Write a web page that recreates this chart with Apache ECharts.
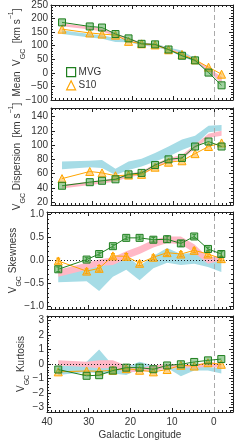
<!DOCTYPE html>
<html><head><meta charset="utf-8">
<script src="https://cdn.jsdelivr.net/npm/echarts@6/dist/echarts.min.js"></script>
<style>html,body{margin:0;padding:0;background:#fff}#c{width:240px;height:445px}</style>
</head><body><div id="c"></div>
<script>
// ---- data ----
const lon = [37.3, 30.5, 27.5, 24.2, 21.0, 17.8, 14.5, 11.2, 7.9, 4.7, 1.4, -1.8];

const meanMVG = [186, 171, 167, 143, 127, 107, 105, 86, 63, 46, 1, -46];
const meanS10 = [161, 147, 143, 139, 116, 107, 103, 85, 68, 48, 21, -5];
const meanBlueLo = [143, 130, 126, 114, 113, 102, 95, 82, 60, 40, 0, -35];
const meanBlueHi = [157, 143, 139, 128, 124, 112, 108, 93, 82, 52, 15, -15];
const meanPinkLo = [172, 160, 152, 135, 120, 104, 98, 84, 64, 44, 5, -38];
const meanPinkHi = [182, 170, 163, 145, 128, 112, 106, 92, 72, 52, 18, -15];

const dispMVG = [43, 48, 50, 52, 59, 61, 72, 80, 82, 98, 105, 98];
const dispS10 = [53, 63, 61, 57, 58, 59, 69, 76, 78, 88, 98, 103];
const dispBlueLo = [66, 69, 68, 58, 65, 70, 77, 84, 93, 100, 118, 120];
const dispBlueHi = [77, 78, 79, 67, 77, 81, 89, 98, 108, 113, 127, 128];
const dispPinkLo = [39, 44, 46, 49, 55, 58, 68, 76, 80, 95, 110, 113];
const dispPinkHi = [44, 49, 51, 54, 60, 63, 74, 82, 86, 101, 116, 120];

const skewMVG = [-0.19, 0.02, 0.14, 0.31, 0.49, 0.49, 0.45, 0.46, 0.37, 0.52, 0.25, 0.14];
const skewS10 = [-0.01, -0.23, -0.17, 0.10, 0.09, -0.06, 0.07, 0.17, 0.14, 0.22, 0.14, 0.04];
const skewErrMVG = [0.05, 0.04, 0.04, 0.04, 0.04, 0.04, 0.05, 0.07, 0.06, 0.04, 0.04, 0.05];
const skewErrS10 = [0.06, 0.05, 0.06, 0.05, 0.06, 0.05, 0.05, 0.06, 0.05, 0.05, 0.05, 0.05];
const skewBlueLo = [-0.47, -0.45, -0.66, -0.35, -0.20, -0.43, -0.17, -0.05, -0.10, -0.07, -0.14, -0.25];
const skewBlueHi = [-0.23, -0.10, -0.15, 0.00, 0.10, -0.12, 0.10, 0.27, 0.14, 0.17, 0.03, 0.00];
const skewPinkLo = [-0.35, -0.20, -0.12, -0.10, 0.03, 0.14, 0.28, 0.38, 0.35, 0.17, -0.07, 0.00];
const skewPinkHi = [-0.20, -0.05, 0.02, 0.07, 0.20, 0.31, 0.45, 0.52, 0.52, 0.35, 0.07, 0.10];

const kurtMVG = [-0.38, -0.81, -0.77, -0.45, -0.25, -0.25, -0.36, -0.10, -0.02, 0.14, 0.25, 0.34];
const kurtS10 = [-0.54, -0.48, -0.50, -0.43, -0.32, -0.43, -0.54, -0.38, -0.09, -0.14, 0.09, -0.02];
const kurtBlueLo = [-0.75, -0.55, -0.65, -0.65, -0.75, -0.32, -0.45, -0.25, -0.85, -0.45, -0.45, -0.65];
const kurtBlueHi = [-0.20, 0.15, 1.00, -0.10, -0.20, 0.15, -0.10, 0.00, -0.10, -0.10, -0.20, -0.30];
const kurtPinkLo = [-0.10, -0.20, -0.30, -0.30, -0.55, -0.55, -0.45, -0.35, -0.25, -0.25, -0.20, -0.25];
const kurtPinkHi = [0.25, 0.15, 0.25, 0.25, -0.10, -0.30, -0.10, 0.00, 0.00, -0.05, 0.15, 0.00];

// ---- ticks ----
const xTicks = [0, 10, 20, 30, 40];
const yTicks1 = [-100, -50, 0, 50, 100, 150, 200, 250];
const yTicks2 = [20, 40, 60, 80, 100, 120, 140];
const yTicks3 = [-1.0, -0.5, 0.0, 0.5, 1.0];
const yTicks4 = [-3, -2, -1, 0, 1, 2, 3];

function range(a, b, s) { const r = []; for (let v = a; v <= b + 1e-9; v += s) r.push(Math.round(v * 1000) / 1000); return r; }
const xMinor = range(-4, 40, 1);

const FONT = 'Liberation Sans, Arial, sans-serif';
const TXT = '#333';
const FRAME = '#222';
const BLUE = '#a6dce6';
const PINK = '#ffb8c6';
const GREEN = '#1f7f1f';
const ORANGE = '#ffa500';
const minus = s => String(s).replace('-', '\u2212');

const panels = [
  { top: 4, h: 96, min: -100, max: 250, ticks: yTicks1, minor: range(-100, 250, 10), fmt: v => minus(v),
    name: '{t|Mean  V}{s|GC}{t|  [km s}{p|\u22121}{t|]}', gap: 27,
    mvg: meanMVG, s10: meanS10, bl: meanBlueLo, bh: meanBlueHi, pl: meanPinkLo, ph: meanPinkHi },
  { top: 108, h: 97, min: 16, max: 152, ticks: yTicks2, minor: range(20, 150, 5), fmt: v => String(v),
    name: '{t|V}{s|GC}{t| Dispersion  [km s}{p|\u22121}{t|]}', gap: 27,
    mvg: dispMVG, s10: dispS10, bl: dispBlueLo, bh: dispBlueHi, pl: dispPinkLo, ph: dispPinkHi },
  { top: 212, h: 97, min: -1.05, max: 1.05, ticks: yTicks3, minor: range(-1, 1, 0.1), fmt: v => minus(v.toFixed(1)),
    name: '{t|V}{s|GC}{t| Skewness}', gap: 27, zero: true,
    mvg: skewMVG, s10: skewS10, bl: skewBlueLo, bh: skewBlueHi, pl: skewPinkLo, ph: skewPinkHi,
    emvg: skewErrMVG, es10: skewErrS10 },
  { top: 316, h: 96, min: -3.3, max: 3.3, ticks: yTicks4, minor: range(-3.2, 3.2, 0.2), fmt: v => minus(v),
    name: '{t|V}{s|GC}{t| Kurtosis}', gap: 19, zero: true,
    mvg: kurtMVG, s10: kurtS10, bl: kurtBlueLo, bh: kurtBlueHi, pl: kurtPinkLo, ph: kurtPinkHi }
];

const grids = [], xAxes = [], yAxes = [], series = [];
const nameRich = {
  t: { fontSize: 10, fontFamily: FONT, color: TXT, lineHeight: 14 },
  s: { fontSize: 7, fontFamily: FONT, color: TXT, lineHeight: 14, verticalAlign: 'bottom', padding: [0, 0, -3, 0] },
  p: { fontSize: 7, fontFamily: FONT, color: TXT, lineHeight: 14, verticalAlign: 'top', padding: [-2, 0, 0, 0] }
};

function band(k, lo, hi, color, z) {
  return {
    type: 'custom', xAxisIndex: 4 * k, yAxisIndex: 4 * k, silent: true, z: z, clip: true,
    data: lon.map((x, i) => [x, lo[i], hi[i]]), encode: { x: 0, y: [1, 2] },
    renderItem: function (params, api) {
      if (params.dataIndex !== 0) return null;
      const pts = [];
      for (let i = 0; i < lon.length; i++) pts.push(api.coord([lon[i], hi[i]]));
      for (let i = lon.length - 1; i >= 0; i--) pts.push(api.coord([lon[i], lo[i]]));
      return { type: 'polygon', shape: { points: pts }, style: { fill: color } };
    }
  };
}
function errBars(k, vals, errs, color) {
  return {
    type: 'custom', xAxisIndex: 4 * k, yAxisIndex: 4 * k, silent: true, z: 6,
    data: lon.map((x, i) => [x, vals[i], errs[i]]), encode: { x: 0, y: 1 },
    renderItem: function (params, api) {
      const x = api.value(0), v = api.value(1), e = api.value(2);
      const a = api.coord([x, v - e]), b = api.coord([x, v + e]);
      return { type: 'group', children: [
        { type: 'line', shape: { x1: a[0], y1: a[1], x2: b[0], y2: b[1] }, style: { stroke: color, lineWidth: 1 } },
        { type: 'line', shape: { x1: a[0] - 2, y1: a[1], x2: a[0] + 2, y2: a[1] }, style: { stroke: color, lineWidth: 1 } },
        { type: 'line', shape: { x1: b[0] - 2, y1: b[1], x2: b[0] + 2, y2: b[1] }, style: { stroke: color, lineWidth: 1 } }
      ] };
    }
  };
}

panels.forEach((p, k) => {
  grids.push({ left: 47, width: 186, top: p.top, height: p.h, show: false, containLabel: false });
  const xBase = { type: 'value', gridIndex: k, min: -4.6, max: 40, inverse: true, splitLine: { show: false }, nameMoveOverlap: false };
  xAxes.push(Object.assign({}, xBase, {
    position: 'bottom',
    axisLine: { show: true, onZero: false, lineStyle: { color: FRAME, width: 1 } },
    axisTick: { show: true, inside: true, length: 4, customValues: xTicks, lineStyle: { color: FRAME } },
    axisLabel: { show: k === 3, customValues: xTicks, fontSize: 10, color: TXT, fontFamily: FONT, margin: 5,
      alignMinLabel: 'center', alignMaxLabel: 'center', hideOverlap: false },
    name: k === 3 ? 'Galactic Longitude' : '', nameLocation: 'middle', nameGap: 18,
    nameTextStyle: { fontSize: 10, color: TXT, fontFamily: FONT }
  }));
  xAxes.push(Object.assign({}, xBase, {
    position: 'bottom', axisLine: { show: false, onZero: false },
    axisTick: { show: true, inside: true, length: 2, customValues: xMinor, lineStyle: { color: FRAME } },
    axisLabel: { show: false }
  }));
  xAxes.push(Object.assign({}, xBase, {
    position: 'top',
    axisLine: { show: true, onZero: false, lineStyle: { color: FRAME, width: 1 } },
    axisTick: { show: true, inside: true, length: 4, customValues: xTicks, lineStyle: { color: FRAME } },
    axisLabel: { show: false }
  }));
  xAxes.push(Object.assign({}, xBase, {
    position: 'top', axisLine: { show: false, onZero: false },
    axisTick: { show: true, inside: true, length: 2, customValues: xMinor, lineStyle: { color: FRAME } },
    axisLabel: { show: false }
  }));

  const yBase = { type: 'value', gridIndex: k, min: p.min, max: p.max, splitLine: { show: false }, nameMoveOverlap: false };
  yAxes.push(Object.assign({}, yBase, {
    position: 'left',
    axisLine: { show: true, onZero: false, lineStyle: { color: FRAME, width: 1 } },
    axisTick: { show: true, inside: true, length: 4, customValues: p.ticks, lineStyle: { color: FRAME } },
    axisLabel: { show: true, customValues: p.ticks, fontSize: 10, color: TXT, fontFamily: FONT, margin: 3, formatter: p.fmt, hideOverlap: false },
    name: p.name, nameLocation: 'middle', nameRotate: 90, nameGap: p.gap,
    nameTextStyle: { rich: nameRich, fontSize: 10, color: TXT, fontFamily: FONT }
  }));
  yAxes.push(Object.assign({}, yBase, {
    position: 'left', axisLine: { show: false, onZero: false },
    axisTick: { show: true, inside: true, length: 2, customValues: p.minor, lineStyle: { color: FRAME } },
    axisLabel: { show: false }
  }));
  yAxes.push(Object.assign({}, yBase, {
    position: 'right',
    axisLine: { show: true, onZero: false, lineStyle: { color: FRAME, width: 1 } },
    axisTick: { show: true, inside: true, length: 4, customValues: p.ticks, lineStyle: { color: FRAME } },
    axisLabel: { show: false }
  }));
  yAxes.push(Object.assign({}, yBase, {
    position: 'right', axisLine: { show: false, onZero: false },
    axisTick: { show: true, inside: true, length: 2, customValues: p.minor, lineStyle: { color: FRAME } },
    axisLabel: { show: false }
  }));

  series.push(band(k, p.bl, p.bh, BLUE, 1));
  series.push(band(k, p.pl, p.ph, PINK, 2));

  const ml = [{ xAxis: 0, lineStyle: { color: '#aaa', type: [5, 3], width: 1 } }];
  if (p.zero) ml.push({ yAxis: 0, lineStyle: { color: '#222', type: [1, 2], width: 1 } });

  series.push({
    name: 'S10', type: 'line', xAxisIndex: 4 * k, yAxisIndex: 4 * k, z: 5,
    data: lon.map((x, i) => [x, p.s10[i]]),
    symbol: 'triangle', symbolSize: 8, showAllSymbol: true,
    lineStyle: { color: ORANGE, width: 1 },
    itemStyle: { color: 'rgba(255,175,40,0.55)', borderColor: ORANGE, borderWidth: 1 },
    emphasis: { disabled: true }, animation: false
  });
  series.push({
    name: 'MVG', type: 'line', xAxisIndex: 4 * k, yAxisIndex: 4 * k, z: 7,
    data: lon.map((x, i) => [x, p.mvg[i]]),
    symbol: 'rect', symbolSize: 7, showAllSymbol: true,
    lineStyle: { color: GREEN, width: 1 },
    itemStyle: { color: 'rgba(70,165,70,0.5)', borderColor: GREEN, borderWidth: 1 },
    emphasis: { disabled: true }, animation: false,
    markLine: { silent: true, symbol: ['none', 'none'], label: { show: false }, animation: false, data: ml }
  });
  if (p.emvg) {
    series.push(errBars(k, p.s10, p.es10, ORANGE));
    series.push(errBars(k, p.mvg, p.emvg, GREEN));
  }
});

const chart = echarts.init(document.getElementById('c'), null, { renderer: 'canvas' });
chart.setOption({
  animation: false,
  backgroundColor: '#fff',
  grid: grids, xAxis: xAxes, yAxis: yAxes, series: series,
  legend: {
    orient: 'vertical', left: 61, top: 62, itemWidth: 9, itemHeight: 9, itemGap: 3,
    selectedMode: false,
    textStyle: { fontSize: 10, color: TXT, fontFamily: FONT, padding: [0, 0, 0, -2] },
    data: [
      { name: 'MVG', icon: 'rect', itemStyle: { color: '#fff', borderColor: GREEN, borderWidth: 1.2 } },
      { name: 'S10', icon: 'triangle', itemStyle: { color: '#fff', borderColor: ORANGE, borderWidth: 1.2 } }
    ]
  }
});
</script></body></html>
